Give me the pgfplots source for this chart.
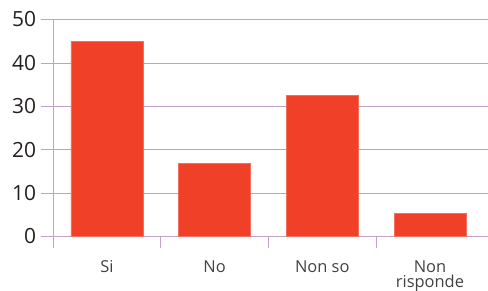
\documentclass[border=0pt]{standalone}
\usepackage{pgfplots}
\pgfplotsset{compat=1.18}
\usepackage{fontspec}
\setmainfont{Open Sans}
\definecolor{barred}{RGB}{240,64,40}
\definecolor{baredge}{RGB}{244,110,95}
\definecolor{gridc}{RGB}{190,162,202}
\definecolor{txt}{RGB}{35,31,32}
\protected\def\nonrisp{\vtop{\hbox to 0pt{\hss Non\hss}\hbox to 0pt{\hss risponde\hss}}}
\begin{document}
\begin{tikzpicture}
\useasboundingbox (0,0) rectangle (488bp,291bp);
\begin{axis}[
  at={(53bp,54.5bp)}, anchor=south west,
  scale only axis, width=435bp, height=217bp,
  xmin=-0.5, xmax=3.539, ymin=0, ymax=50,
  axis x line*=bottom, axis y line*=left,
  axis line style={draw=gridc, line width=0.8pt},
  ymajorgrids, grid style={draw=gridc, line width=0.8pt},
  ytick={0,10,20,30,40,50},
  xtick={0,1,2,3},
  xticklabels={Si,No,Non so,\nonrisp},
  minor xtick={-0.5,0.5,1.5,2.5},
  tick align=outside,
  major tick length=12bp,
  minor tick length=11.5bp,
  major x tick style={draw=none},
  minor x tick style={draw=gridc, line width=0.8pt},
  major y tick style={draw=gridc, line width=0.8pt},
  yticklabel style={font=\fontsize{21}{21}\selectfont, text=txt, anchor=east, xshift=-1.5bp},
  xticklabel style={font=\fontsize{16.5}{15.2}\selectfont, text=txt!85, anchor=base, yshift=-24bp},
  /pgf/number format/assume math mode=true,
  clip=false,
]
\addplot[ybar, bar width=0.667, fill=barred, draw=baredge, line width=0.5pt, bar shift=0pt]
  coordinates {(0,45) (1,16.9) (2,32.6) (3,5.35)};
\end{axis}
\end{tikzpicture}
\end{document}
